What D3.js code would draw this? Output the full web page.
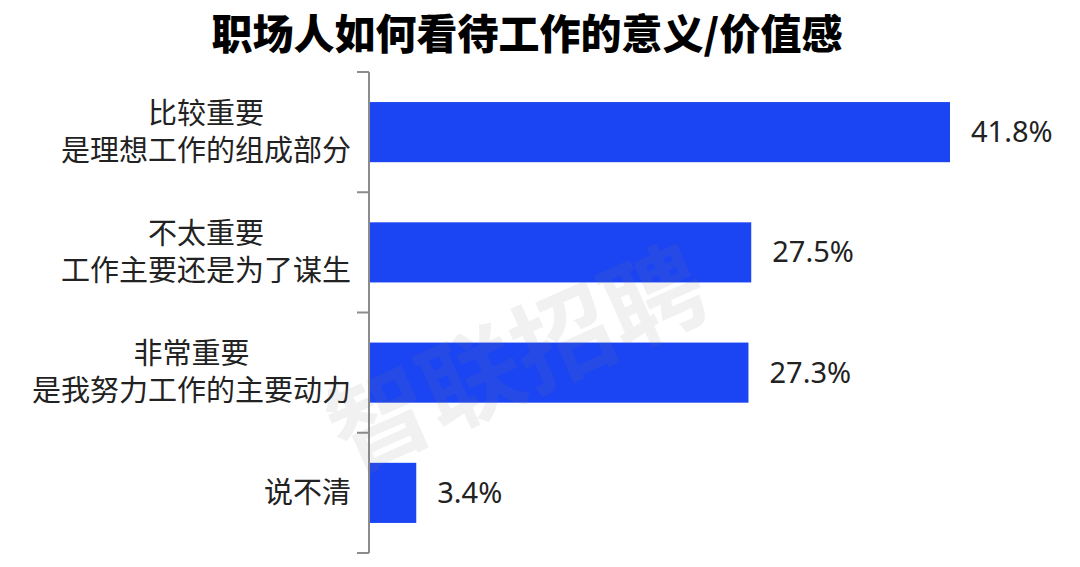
<!DOCTYPE html>
<html>
<head>
<meta charset="utf-8">
<script src="https://cdn.jsdelivr.net/npm/d3@7"></script>
<style>
body { margin: 0; background: #fff; }
svg { display: block; font-family: "Noto Sans CJK SC", "Noto Sans", sans-serif; }
</style>
</head>
<body>
<svg id="chart" width="1080" height="567"></svg>
<script>
var title = "职场人如何看待工作的意义/价值感";
var categories = ["比较重要\n是理想工作的组成部分", "不太重要\n工作主要还是为了谋生", "非常重要\n是我努力工作的主要动力", "说不清"];
var values = [41.8, 27.5, 27.3, 3.4];
var valueLabels = ["41.8%", "27.5%", "27.3%", "3.4%"];

var svg = d3.select('#chart');
var axisX = 369, axisTop = 72, axisBottom = 553;

var y = d3.scaleBand().domain(categories).range([axisTop, axisBottom]).paddingInner(0.5).paddingOuter(0.25);
var x = d3.scaleLinear().domain([0, 41.8]).range([axisX, 950]);

// title
svg.append('text').attr('x', 527).attr('y', 49).attr('text-anchor', 'middle')
    .attr('font-size', 41).attr('font-weight', 900).attr('fill', '#000').text(title);

// bars
svg.selectAll('rect.bar').data(values).enter().append('rect')
    .attr('class', 'bar')
    .attr('x', x(0) + 1)
    .attr('y', function (d, i) { return y(categories[i]); })
    .attr('width', function (d) { return x(d) - x(0) - 1; })
    .attr('height', y.bandwidth())
    .attr('fill', '#1b44f2');

// value labels
svg.selectAll('text.val').data(values).enter().append('text')
    .attr('class', 'val')
    .attr('x', function (d) { return x(d) + 21; })
    .attr('y', function (d, i) { return y(categories[i]) + y.bandwidth() / 2 + 10; })
    .attr('font-family', '"Noto Sans", sans-serif')
    .attr('font-size', 29).attr('fill', '#222')
    .text(function (d, i) { return valueLabels[i]; });

// axis with ticks between bands
var ticks = d3.range(categories.length + 1).map(function (i) { return axisTop + i * (axisBottom - axisTop) / categories.length; });
var axis = svg.append('g').attr('stroke', '#8c8c8c').attr('stroke-width', 2);
axis.append('line').attr('x1', axisX).attr('x2', axisX).attr('y1', axisTop).attr('y2', axisBottom);
axis.selectAll('line.tick').data(ticks).enter().append('line')
    .attr('class', 'tick')
    .attr('x1', axisX - 12).attr('x2', axisX).attr('y1', function (d) { return d; }).attr('y2', function (d) { return d; });

// category labels, lines centred on each other, right edge at 351
categories.forEach(function (c) {
    var lines = c.split('\n');
    var cy = y(c) + y.bandwidth() / 2;
    var t = svg.append('text').attr('text-anchor', 'middle').attr('font-size', 29).attr('fill', '#222');
    var spans = lines.map(function (l, k) {
        return t.append('tspan')
            .attr('y', cy + 10 + (k - (lines.length - 1) / 2) * 37)
            .text(l);
    });
    var w = d3.max(spans, function (s) { return s.node().getComputedTextLength(); });
    spans.forEach(function (s) { s.attr('x', 351 - w / 2); });
});

// watermark
svg.append('text').attr('transform', 'translate(532,392) rotate(-24)')
    .attr('text-anchor', 'middle').attr('font-size', 100).attr('font-weight', 'bold')
    .attr('fill', '#808080').attr('fill-opacity', 0.11).text('智联招聘');
</script>
</body>
</html>
